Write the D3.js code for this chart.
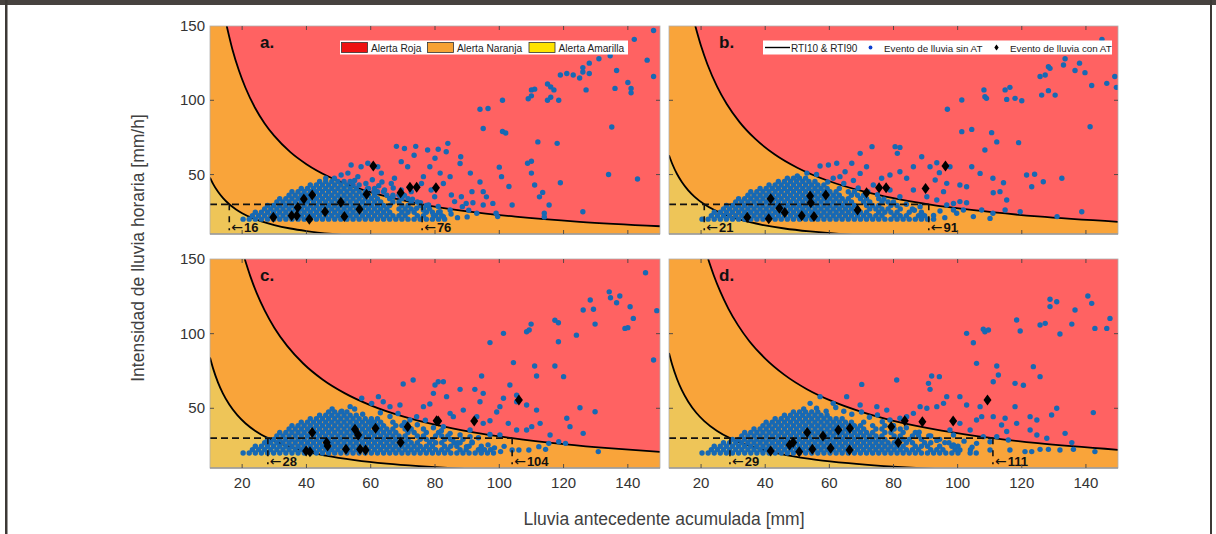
<!DOCTYPE html>
<html><head><meta charset="utf-8">
<script src="https://cdn.jsdelivr.net/npm/d3@7"></script>
<style>body{margin:0;background:#fff;}svg{display:block;font-family:"Liberation Sans",Arial,Helvetica,sans-serif;}</style>
</head><body><svg id="chart" width="1216" height="534"></svg>
<script>
// ---------- data ----------
const xTicks = [20, 40, 60, 80, 100, 120, 140];
const yTicks = [50, 100, 150];
const panelNames = ["a.", "b.", "c.", "d."];
const lowThresholds = [16, 21, 28, 29];
const highThresholds = [76, 91, 104, 111];
const alertLabels = ["Alerta Roja", "Alerta Naranja", "Alerta Amarilla"];
const seriesLabels = ["RTI10 & RTI90", "Evento de lluvia sin AT", "Evento de lluvia con AT"];
const xTitle = "Lluvia antecedente acumulada [mm]";
const yTitle = "Intensidad de lluvia horaria [mm/h]";

// RTI90 (upper) and RTI10 (lower) curves
const upperA = [[15.2,150],[17,134],[19,120],[21,108.6],[24,95],[27,84.4],[30,76],[35,65.1],[40,57],[47,48.5],[55,41.5],[65,35.1],[76,30],[90,25.3],[105,21.7],[125,18.2],[150,15.2]];
const lowerA = [[10,48],[11,43.6],[12.5,38.4],[14,34.3],[16,30],[18,26.7],[20,24],[23,20.9],[26,18.5],[30,16],[35,13.7],[40,12],[48,10],[52,9.2]];
const upperB = [[18.2,150],[20,136.5],[22,124.1],[25,109.2],[28,97.5],[32,85.3],[37,73.8],[43,63.5],[50,54.6],[60,45.5],[70,39],[80,34.1],[91,30],[105,26],[125,21.8],[150,18.2]];
const lowerB = [[10,63],[11,57.3],[12.5,50.4],[14,45],[16,39.4],[18,35],[21,30],[24,26.3],[28,22.5],[33,19.1],[39,16.2],[46,13.7],[54,11.7],[63,10],[68,9.3]];
const upperC = [[20.8,150],[22.5,138.7],[24.5,127.3],[27,115.6],[30,104],[34,91.8],[39,80],[45,69.3],[52,60],[60,52],[70,44.6],[80,39],[92,33.9],[104,30],[120,26],[135,23.1],[150,20.8]];
const lowerC = [[10,84],[11,76.4],[12.5,67.2],[14,60],[16,52.5],[18.5,45.4],[21,40],[24,35],[28,30],[33,25.5],[39,21.5],[46,18.3],[55,15.3],[65,12.9],[75,11.2],[84,10],[90,9.3]];
const upperD = [[22.2,150],[24,138.8],[26,128.1],[28.5,116.8],[31.5,105.7],[35,95.1],[40,83.3],[46,72.4],[53,62.8],[61,54.6],[70,47.6],[80,41.6],[95,35.1],[111,30],[125,26.6],[150,22.2]];
const lowerD = [[10,87],[11,79.1],[12.5,69.6],[14,62.1],[16,54.4],[18.5,47],[21,41.4],[25,34.8],[29,30],[34,25.6],[40,21.8],[47,18.5],[56,15.5],[66,13.2],[77,11.3],[87,10],[93,9.4]];

// dense clouds of rain events without AT: [intensity, [antecedent rain values]]
const coreA = [
 [20,[20.3,22.2,24.1,26,27.9,29.8,31.7,33.6,35.5,37.4,39.3,41.2,43.1,45,46.9,48.8,50.7,52.6,54.5,56.4,58.3,60.2,62.1,64,65.9,67.8,69.7,71.6,73.5,75.4,77.3,79.2,81.1,83]],
 [22.3,[23.2,25.1,27,28.9,30.8,32.7,34.6,36.5,38.4,40.3,42.2,44.1,46,47.9,49.8,51.7,53.6,55.5,57.4,59.3,61.2,63.1,65,66.9,68.8,70.7,74.5,76.4,80.2,82.1]],
 [24.6,[24.1,26,27.9,29.8,31.7,33.6,35.5,37.4,39.3,41.2,43.1,45,46.9,48.8,50.7,52.6,54.5,56.4,58.3,60.2,62.1,64,65.9,69.7,71.6,73.5,77.3,79.2,81.1]],
 [26.9,[27,28.9,30.8,32.7,34.6,36.5,38.4,40.3,42.2,44.1,46,47.9,49.8,51.7,53.6,55.5,57.4,59.3,61.2,63.1,65,68.8,70.7,72.6,76.4,78.3]],
 [29.2,[27.9,29.8,31.7,33.6,35.5,37.4,39.3,41.2,43.1,45,46.9,48.8,50.7,52.6,54.5,56.4,58.3,60.2,62.1,64,65.9,69.7,71.6,75.4,77.3]],
 [31.5,[30.8,32.7,34.6,36.5,38.4,40.3,42.2,44.1,46,47.9,49.8,51.7,53.6,55.5,57.4,59.3,61.2,63.1,66.9,68.8,72.6,74.5]],
 [33.8,[31.7,33.6,35.5,37.4,39.3,41.2,43.1,45,46.9,48.8,50.7,52.6,54.5,56.4,58.3,60.2,62.1,65.9,69.7,71.6]],
 [36.1,[34.6,36.5,38.4,40.3,42.2,44.1,46,47.9,49.8,51.7,53.6,55.5,57.4,59.3,61.2,65,66.9,68.8]],
 [38.4,[35.5,37.4,39.3,41.2,43.1,45,46.9,48.8,50.7,52.6,54.5,56.4,58.3,62.1,64]],
 [40.7,[38.4,40.3,42.2,44.1,46,47.9,49.8,51.7,53.6,55.5,59.3,61.2]],
 [43,[41.2,43.1,45,46.9,48.8,50.7,52.6,54.5,56.4]],
 [45.3,[44.1,46,47.9,49.8,51.7,53.6]]
];
const coreB = [
 [20,[20.3,22.2,24.1,26,27.9,29.8,31.7,33.6,35.5,37.4,39.3,41.2,43.1,45,46.9,48.8,50.7,52.6,54.5,56.4,58.3,60.2,62.1,64,65.9,67.8,69.7,71.6,73.5,75.4,77.3,79.2,81.1,83,84.9,86.8,88.7,90.6,92.5]],
 [22.3,[23.2,25.1,27,28.9,30.8,32.7,34.6,36.5,38.4,40.3,42.2,44.1,46,47.9,49.8,51.7,53.6,55.5,57.4,59.3,61.2,63.1,65,66.9,68.8,70.7,72.6,74.5,76.4,80.2,82.1,84,87.8,89.7]],
 [24.6,[24.1,26,27.9,29.8,31.7,33.6,35.5,37.4,39.3,41.2,43.1,45,46.9,48.8,50.7,52.6,54.5,56.4,58.3,60.2,62.1,64,65.9,67.8,69.7,71.6,75.4,77.3,79.2,81.1,84.9,88.7]],
 [26.9,[27,28.9,30.8,32.7,34.6,36.5,38.4,40.3,42.2,44.1,46,47.9,49.8,51.7,53.6,55.5,57.4,59.3,61.2,63.1,65,66.9,68.8,72.6,74.5,76.4,78.3,82.1,85.9]],
 [29.2,[27.9,29.8,31.7,33.6,35.5,37.4,39.3,41.2,43.1,45,46.9,48.8,50.7,52.6,54.5,56.4,58.3,60.2,62.1,64,65.9,67.8,71.6,73.5,75.4,79.2,81.1]],
 [31.5,[30.8,32.7,34.6,36.5,38.4,40.3,42.2,44.1,46,47.9,49.8,51.7,53.6,55.5,57.4,59.3,61.2,63.1,65,66.9,70.7,72.6,76.4,78.3]],
 [33.8,[31.7,33.6,35.5,37.4,39.3,41.2,43.1,45,46.9,48.8,50.7,52.6,54.5,56.4,58.3,60.2,62.1,64,65.9,69.7,71.6,75.4]],
 [36.1,[34.6,36.5,38.4,40.3,42.2,44.1,46,47.9,49.8,51.7,53.6,55.5,57.4,59.3,61.2,63.1,66.9,68.8,70.7]],
 [38.4,[35.5,37.4,39.3,41.2,43.1,45,46.9,48.8,50.7,52.6,54.5,56.4,58.3,60.2,62.1,65.9,67.8]],
 [40.7,[38.4,40.3,42.2,44.1,46,47.9,49.8,51.7,53.6,55.5,57.4,59.3,63.1]],
 [43,[41.2,43.1,45,46.9,48.8,50.7,52.6,54.5,56.4,58.3]],
 [45.3,[44.1,46,47.9,49.8,51.7,53.6,55.5]],
 [47.6,[46.9,48.8,50.7,52.6]]
];
const coreC = [
 [20,[20.3,22.2,24.1,26,27.9,29.8,31.7,33.6,35.5,37.4,39.3,41.2,43.1,45,46.9,48.8,50.7,52.6,54.5,56.4,58.3,60.2,62.1,64,65.9,67.8,69.7,71.6,73.5,75.4,77.3,79.2,81.1,83,84.9,86.8,88.7,90.6,92.5,94.4,96.3,98.2]],
 [22.3,[23.2,25.1,27,28.9,30.8,32.7,34.6,36.5,38.4,40.3,42.2,44.1,46,47.9,49.8,51.7,53.6,55.5,57.4,59.3,61.2,63.1,65,66.9,68.8,70.7,72.6,74.5,76.4,78.3,80.2,82.1,84,87.8,89.7,93.5,95.4,97.3]],
 [24.6,[24.1,26,27.9,29.8,31.7,33.6,35.5,37.4,39.3,41.2,43.1,45,46.9,48.8,50.7,52.6,54.5,56.4,58.3,60.2,62.1,64,65.9,67.8,69.7,71.6,73.5,75.4,77.3,79.2,83,84.9,86.8,90.6,94.4]],
 [26.9,[27,28.9,30.8,32.7,34.6,36.5,38.4,40.3,42.2,44.1,46,47.9,49.8,51.7,53.6,55.5,57.4,59.3,61.2,63.1,65,66.9,68.8,70.7,72.6,74.5,78.3,80.2,82.1,85.9,87.8,91.6]],
 [29.2,[27.9,29.8,31.7,33.6,35.5,37.4,39.3,41.2,43.1,45,46.9,48.8,50.7,52.6,54.5,56.4,58.3,60.2,62.1,64,65.9,67.8,69.7,71.6,75.4,77.3,79.2,83,84.9,88.7]],
 [31.5,[30.8,32.7,34.6,36.5,38.4,40.3,42.2,44.1,46,47.9,49.8,51.7,53.6,55.5,57.4,59.3,61.2,63.1,65,66.9,68.8,70.7,74.5,76.4,80.2,82.1,84]],
 [33.8,[31.7,33.6,35.5,37.4,39.3,41.2,43.1,45,46.9,48.8,50.7,52.6,54.5,56.4,58.3,60.2,62.1,64,65.9,67.8,71.6,73.5,77.3,81.1]],
 [36.1,[34.6,36.5,38.4,40.3,42.2,44.1,46,47.9,49.8,51.7,53.6,55.5,57.4,59.3,61.2,63.1,65,66.9,70.7,72.6,76.4]],
 [38.4,[35.5,37.4,39.3,41.2,43.1,45,46.9,48.8,50.7,52.6,54.5,56.4,58.3,60.2,62.1,64,67.8,69.7,71.6]],
 [40.7,[38.4,40.3,42.2,44.1,46,47.9,49.8,51.7,53.6,55.5,57.4,59.3,61.2,63.1,66.9]],
 [43,[41.2,43.1,45,46.9,48.8,50.7,52.6,54.5,56.4,58.3,60.2,62.1]],
 [45.3,[44.1,46,47.9,49.8,51.7,53.6,55.5]],
 [47.6,[46.9,48.8,50.7,52.6]]
];
const coreD = [
 [20,[20.3,22.2,24.1,26,27.9,29.8,31.7,33.6,35.5,37.4,39.3,41.2,43.1,45,46.9,48.8,50.7,52.6,54.5,56.4,58.3,60.2,62.1,64,65.9,67.8,69.7,71.6,73.5,75.4,77.3,79.2,81.1,83,84.9,86.8,88.7,90.6,92.5,94.4,96.3,98.2,100.1,103.9,105.8]],
 [22.3,[23.2,25.1,27,28.9,30.8,32.7,34.6,36.5,38.4,40.3,42.2,44.1,46,47.9,49.8,51.7,53.6,55.5,57.4,59.3,61.2,63.1,65,66.9,68.8,70.7,72.6,74.5,76.4,78.3,80.2,82.1,84,85.9,87.8,91.6,93.5,95.4,99.2,104]],
 [24.6,[24.1,26,27.9,29.8,31.7,33.6,35.5,37.4,39.3,41.2,43.1,45,46.9,48.8,50.7,52.6,54.5,56.4,58.3,60.2,62.1,64,65.9,67.8,69.7,71.6,73.5,75.4,77.3,79.2,81.1,83,86.8,88.7,90.6,94.4,98.2,100.1]],
 [26.9,[27,28.9,30.8,32.7,34.6,36.5,38.4,40.3,42.2,44.1,46,47.9,49.8,51.7,53.6,55.5,57.4,59.3,61.2,63.1,65,66.9,68.8,70.7,72.6,74.5,76.4,78.3,80.2,84,85.9,89.7,91.6,97.3]],
 [29.2,[29.8,31.7,33.6,35.5,37.4,39.3,41.2,43.1,45,46.9,48.8,50.7,52.6,54.5,56.4,58.3,60.2,62.1,64,65.9,67.8,69.7,71.6,73.5,75.4,77.3,81.1,83,84.9,88.7,94.4]],
 [31.5,[32.7,34.6,36.5,38.4,40.3,42.2,44.1,46,47.9,49.8,51.7,53.6,55.5,57.4,59.3,61.2,63.1,65,66.9,68.8,70.7,72.6,74.5,76.4,80.2,82.1,85.9,87.8,91.6]],
 [33.8,[33.6,35.5,37.4,39.3,41.2,43.1,45,46.9,48.8,50.7,52.6,54.5,56.4,58.3,60.2,62.1,64,65.9,67.8,69.7,71.6,73.5,77.3,79.2,83,86.8]],
 [36.1,[36.5,38.4,40.3,42.2,44.1,46,47.9,49.8,51.7,53.6,55.5,57.4,59.3,61.2,63.1,65,66.9,68.8,70.7,74.5,76.4,80.2,82.1]],
 [38.4,[39.3,41.2,43.1,45,46.9,48.8,50.7,52.6,54.5,56.4,58.3,60.2,62.1,64,65.9,67.8,69.7,73.5,77.3]],
 [40.7,[40.3,42.2,44.1,46,47.9,49.8,51.7,53.6,55.5,57.4,59.3,61.2,63.1,65,66.9,70.7]],
 [43,[43.1,45,46.9,48.8,50.7,52.6,54.5,56.4,58.3,60.2,62.1,64]],
 [45.3,[46,47.9,49.8,51.7,53.6,55.5,57.4,59.3]],
 [47.6,[48.8,50.7,52.6,54.5,56.4]]
];

// scattered rain events without AT: [antecedent rain, intensity]
const sparseA = [[148,147],[142,141],[134.5,130],[131,128],[128,125],[126,122],[126,119],[123,117],[121,118],[125,115],[119,117],[128,118],[136.5,120],[140,112],[146,127],[148,116],[141,105],[141,108],[136,108],[127,107],[135,82],[110,107],[111,107.5],[110,103],[109,101],[115,111],[116,109],[117,107],[116,102],[115,100],[118.5,100],[101,100],[94,94],[96.5,94.5],[95,81],[101,79],[102,78],[112,72],[118,71],[119,44.5],[126,25],[134,50],[143,47],[110,51],[110,59],[108.8,57.6],[111,43],[113.5,38],[112.5,35],[115.5,29.5],[114,24],[114,21.5],[103,42],[100,55],[100.7,48.6],[104,29.5],[99.5,21.7],[99,24],[93,24],[90.5,26],[88.5,28.4],[68,69],[70.5,67.5],[74,69],[73.5,63],[77.7,66.5],[81,67],[84,71],[83.5,65.4],[80,61],[88,62],[87.8,57.5],[91,51],[94,45],[91.5,38.5],[95,38.5],[96,35],[98,30.6],[84.7,48.6],[81.6,51],[82.6,44],[78.4,55.3],[76.4,48.6],[75.8,44],[71.5,55.3],[69.5,58.7],[67.4,47.5],[66.4,44],[63.3,51],[62.2,55.3],[59.1,57.6],[57,55.3],[53.9,56.4],[52.9,51],[50.8,49.7],[48.7,47.5],[56,48.6],[64.3,39.6],[66.9,35.1],[69.5,39.6],[72.6,38.5],[78.8,39.6],[79.9,35.1],[85.1,36.2],[86.1,31.8],[88.2,35.1],[89.7,30.6],[91.8,31],[95,29.5],[84.7,26.2],[81.6,25],[82.6,21.7],[79.5,22.8],[76.4,26.2],[74.3,27.3],[46,47.5],[55,46],[58.5,44],[60.5,46.5],[62.5,42.5],[63.5,45],[59,40.5],[61,38.5],[67,41],[70.5,36],[73,33.5],[75.5,31],[78,29.5],[81,28.5],[85,23.5],[87,21],[90,21.5]];
const sparseB = [[145,141],[133.5,128],[138,125],[136.6,120],[139.7,118.6],[133,123.7],[128.3,122.6],[128.8,121.5],[127.3,117],[125.7,116],[141.8,110],[146.5,111.4],[149.5,108.7],[149,116],[130.4,103.5],[128.3,106.5],[126.2,103.5],[120,99.7],[117.9,101.3],[115.3,100.6],[116.3,108.7],[114.8,107],[108.5,102.4],[109,101.3],[108.2,107],[101.3,100.2],[96.8,94],[141.3,82.2],[119,71.5],[110.6,78.2],[112.2,72],[104.4,80.4],[101.3,78.9],[108.5,66.5],[104.4,55.3],[111,47.5],[114.3,44.5],[121.5,49.7],[124,50.2],[132.5,47.5],[138.7,25],[131,21.7],[119.5,25],[111,24],[110.1,20.5],[104.9,21.7],[107.5,26.2],[102.8,31],[100.7,31.8],[99.7,24],[98.7,30.6],[115.3,32.9],[114.8,26.2],[113.2,38.5],[111.1,37.8],[126.7,45.2],[123.1,41.8],[107,50.8],[102.8,41.8],[100.7,43],[97.6,55.3],[96.6,44.1],[95.6,38.5],[93.5,58],[94.3,51.3],[93,46.3],[91.4,55.3],[88.8,62],[86.2,55.3],[84.1,47.5],[82,51.9],[80.5,68.8],[82,68.3],[81.2,64.3],[78.9,49.7],[76.3,47.5],[73.3,68.8],[69.6,64.3],[71.6,55.3],[69.6,50.8],[67,57.6],[64.9,51.9],[62.3,57.6],[59.7,56.4],[57.1,55.8],[63.3,48.6],[61.2,47.5],[73.7,43],[78.9,39.6],[82,35.1],[86.2,39.6],[90.4,35.1],[93.5,32.9],[96.6,29.5],[98.7,26.2],[101.8,26.2],[88.3,28.4],[50,49],[53,51],[56,50],[59.5,45],[64.5,44],[67.5,46],[69,41],[72,38.5],[75,36.5],[77,33.5],[80,31.5],[84,30],[86.5,26],[89,23],[92.5,22.5],[94.5,25.5],[96,21]];
const sparseC = [[145.5,140.8],[149,115.4],[148,82.3],[134.2,128],[134.6,124],[137.5,125.2],[136.5,120.7],[140.7,118],[141.7,110.2],[139.1,103.5],[140,104],[128.3,122.5],[129.3,116.3],[126.1,115.8],[129.8,106.4],[124,99],[117.3,109],[118.4,107.3],[118.4,94.6],[108.5,101.3],[109.3,102.4],[109.9,106.4],[101.3,100.2],[97.1,94],[104.4,80.6],[111,78.3],[111.6,71.6],[117.3,78.3],[120,71.2],[103.3,65.6],[105.4,58.7],[101.3,56.7],[94.5,71.6],[92.4,62.7],[95,60],[94,54.4],[100.2,51.1],[99.2,47.5],[105.4,54.4],[108.5,52.2],[111.6,48.8],[112.7,39.9],[110.1,37.7],[108.5,35.5],[102.8,39.9],[97.1,41.7],[93,44.4],[95,39.9],[90.9,35.5],[93.5,30.3],[97.1,32.5],[100.2,32.1],[105.4,35.5],[115.8,32.1],[121,43.3],[122,37.7],[125.1,50.4],[126.1,33.2],[129.8,47.7],[130.8,21],[120.6,26.5],[118.5,27.6],[115.4,26.5],[114.4,22.5],[112.3,24.3],[109.2,22.1],[106.1,22.1],[104,22.1],[100.4,21],[87.8,62.7],[88.8,48.8],[84.7,46.6],[85.7,44.4],[82.6,67.8],[81,67.8],[80,65.6],[79.5,60],[83.6,57.8],[78.4,52.9],[76.4,51.1],[73.2,68.9],[70.1,66.3],[74.3,44.4],[72.2,42.2],[69.1,52.2],[66,51.1],[63.9,54.4],[62.4,57.8],[60.3,53.3],[57.2,56.7],[53.6,51.1],[59.8,41],[82.6,37.7],[84.7,33.2],[87.8,32.1],[90.9,31],[89.8,24.3],[94,22.1],[48,49.5],[51,48],[55,49.5],[57.5,46],[63,47],[66,44.5],[68.5,46.5],[70.5,40.5],[74.5,39],[77,42],[79.5,37],[82,35],[85.5,29],[87,27],[91.5,27.5],[96.5,25.5],[98.5,23.5],[101.5,24.5]];
const sparseD = [[140.6,125.2],[128.8,123],[130.9,121.4],[128.8,118.1],[141.8,120.3],[136.6,115.8],[147.5,110.2],[142.8,103.5],[146.5,103.5],[135.6,106.4],[125.7,105.8],[127.3,106.9],[131.9,99.8],[118.4,109.1],[119.5,101.8],[108.5,101.3],[109.6,102.4],[108,102.9],[102.8,100.2],[104.9,93.9],[105.9,80.1],[112.2,78.3],[112.7,72.3],[123.6,77.9],[125.7,71.2],[117.9,66.7],[120.5,65.4],[111.1,67.8],[91.9,71.6],[94.3,71.2],[90.9,66.7],[91.4,62.7],[81,68.9],[70.1,66],[96.6,57.8],[100.7,57.8],[102.8,52.2],[107,51.1],[107.5,44.4],[105.9,42.2],[111.1,44.4],[114.8,43.3],[113.7,38.8],[117.9,51.1],[118.4,39.9],[122.6,44.4],[124.7,42.2],[130.9,50],[129.3,45.5],[122.6,35.5],[124.7,32.1],[127.8,29.9],[133.5,33.2],[135.6,27],[142.3,47.1],[136.1,22.5],[142.8,21],[131.9,22.1],[128.3,22.5],[125.7,22.5],[123.1,21],[121,21],[116.3,22.1],[115.8,28.8],[115.3,34.4],[112.2,31],[110.1,27.6],[108,31],[103.9,35.5],[97.6,35.5],[95.6,53.3],[93.5,51.1],[90.4,50],[88.3,51.1],[86.2,46.6],[84.1,44.4],[82,43.3],[78.9,42.2],[77.9,48.8],[74.8,51.1],[69.6,52.2],[65.4,57.8],[61.2,53.3],[57.1,57.8],[54,53.3],[100.7,39.9],[98.7,32.1],[105.9,26.5],[110.1,22.1],[100.7,22.1],[98.7,25.4],[52,49.5],[56,50],[59,48],[62,50.5],[64.5,48],[67,46],[70,47.5],[72.5,44],[75,45.5],[76.5,41],[80,38.5],[84,37],[88,34],[91,31.5],[93.5,28.5],[96,27],[102,28],[104.5,24]];

// rain events with AT (landslides): [antecedent rain, intensity]
const atA = [[29.7,21.2],[35.4,22.3],[37,22.3],[40.9,19.9],[37.3,27.9],[39.2,33.6],[41.8,36.2],[45.8,25],[50.7,31.3],[51.8,21.7],[56.5,26.6],[58.7,36.7],[60.8,55.8],[69.3,37.8],[72.2,41.4],[74.3,41.4],[80.3,41.2]];
const atB = [[34.4,21.2],[41.1,20.3],[41.7,33.8],[44.4,27.3],[46.1,24.4],[51.4,22.3],[54,35.6],[54.2,31.1],[55.2,21.7],[58.9,36.2],[68.8,26.2],[71.6,37.8],[75.5,41.2],[77.7,41.2],[90,40.7],[96.2,55.8]];
const atC = [[39.9,21.4],[41.1,20.9],[41.8,33.7],[46.3,27],[46.6,24.7],[52.3,22.5],[55.1,35.9],[56.1,32.1],[56.7,22.5],[58.4,22.1],[61.5,36.6],[69.3,27],[71.5,37.7],[80.5,41.7],[81,41.5],[92.2,41.5],[106.1,55.5]];
const atD = [[41.7,21.4],[47.6,25.4],[48.7,27],[50.6,20.9],[53.1,33.7],[54.7,22.5],[58,31.4],[60.4,23.2],[62.8,35.5],[66.3,22.1],[66.4,36.6],[79.3,37.7],[81.5,27],[83.5,41.7],[89,41],[98.6,41.5],[109.3,55.5]];

// ---------- layout / style ----------
const COL = {red: "#FF6262", orange: "#F9A43A", yellow: "#EEC558", blue: "#1769B4", text: "#333"};
const boxes = [
  {x0: 210, x1: 660, y0: 26, y1: 234},
  {x0: 669, x1: 1118, y0: 26, y1: 234},
  {x0: 210, x1: 660, y0: 259, y1: 468},
  {x0: 669, x1: 1118, y0: 259, y1: 468}
];
const panels = [
  {upper: upperA, lower: lowerA, core: coreA, sparse: sparseA, at: atA},
  {upper: upperB, lower: lowerB, core: coreB, sparse: sparseB, at: atB},
  {upper: upperC, lower: lowerC, core: coreC, sparse: sparseC, at: atC},
  {upper: upperD, lower: lowerD, core: coreD, sparse: sparseD, at: atD}
];

const svg = d3.select("#chart");
const defs = svg.append("defs");
const diamond = "M0,-5.5L4,0L0,5.5L-4,0Z";

// outer frame of the figure
svg.append("rect").attr("x", 0).attr("y", 0).attr("width", 1216).attr("height", 5).attr("fill", "#47423f");
svg.append("rect").attr("x", 5).attr("y", 0).attr("width", 2.5).attr("height", 534).attr("fill", "#3d3936");
svg.append("rect").attr("x", 1210).attr("y", 0).attr("width", 2).attr("height", 534).attr("fill", "#3d3936");

panels.forEach((p, i) => {
  const b = boxes[i];
  const x = d3.scaleLinear().domain([10, 150]).range([b.x0, b.x1]);
  const y = d3.scaleLinear().domain([10, 150]).range([b.y1, b.y0]);
  const clipId = "clip" + i;
  defs.append("clipPath").attr("id", clipId).append("rect")
    .attr("x", b.x0).attr("y", b.y0).attr("width", b.x1 - b.x0).attr("height", b.y1 - b.y0);
  const g = svg.append("g");
  const pg = g.append("g").attr("clip-path", `url(#${clipId})`);
  const line = d3.line().x(d => x(d[0])).y(d => y(d[1])).curve(d3.curveMonotoneX);

  // alert zones
  pg.append("rect").attr("x", b.x0).attr("y", b.y0).attr("width", b.x1 - b.x0).attr("height", b.y1 - b.y0).attr("fill", COL.red);
  pg.append("path").attr("fill", COL.orange)
    .attr("d", line(p.upper) + `L${x(150)},${y(5)}L${x(10)},${y(5)}L${x(10)},${y(155)}Z`);
  pg.append("path").attr("fill", COL.yellow)
    .attr("d", line(p.lower) + `L${x(10)},${y(5)}Z`);

  // RTI curves
  [p.upper, p.lower].forEach(c => pg.append("path").attr("d", line(c))
    .attr("fill", "none").attr("stroke", "#000").attr("stroke-width", 1.8));

  // rain events without AT
  const cloud = p.core.flatMap(([iv, xs]) => xs.map(r => [r, iv])).concat(p.sparse);
  pg.append("g").selectAll("circle").data(cloud).join("circle")
    .attr("cx", d => x(d[0])).attr("cy", d => y(d[1])).attr("r", 2.7).attr("fill", COL.blue);

  // threshold markers
  const lo = lowThresholds[i], hi = highThresholds[i];
  pg.append("path").attr("d", `M${x(10)},${y(30)}L${x(hi)},${y(30)}`)
    .attr("stroke", "#111").attr("stroke-width", 1.8).attr("stroke-dasharray", "7,4").attr("fill", "none");
  [lo, hi].forEach(v => {
    pg.append("path").attr("d", `M${x(v)},${y(30)}L${x(v)},${y(12.5)}`)
      .attr("stroke", "#111").attr("stroke-width", 1.6).attr("stroke-dasharray", "6,6").attr("fill", "none");
    const t = g.append("text").attr("x", x(v) + 2).attr("y", b.y1 - 2.5).attr("fill", "#111");
    t.append("tspan").attr("font-size", 14).attr("font-family", "DejaVu Sans").text("\u2190");
    t.append("tspan").attr("dx", 1).attr("font-size", 13).attr("font-weight", "bold").text(String(v));
  });

  // rain events with AT
  pg.append("g").selectAll("path").data(p.at).join("path")
    .attr("d", diamond).attr("transform", d => `translate(${x(d[0])},${y(d[1])})`).attr("fill", "#000");

  // box and ticks
  g.append("rect").attr("x", b.x0).attr("y", b.y0).attr("width", b.x1 - b.x0).attr("height", b.y1 - b.y0)
    .attr("fill", "none").attr("stroke", "#b0b0b0").attr("stroke-width", 0.8);
  g.append("line").attr("x1", b.x0).attr("x2", b.x1).attr("y1", b.y1).attr("y2", b.y1)
    .attr("stroke", "#9a9a9a").attr("stroke-width", 1.5);
  xTicks.forEach(v => {
    g.append("line").attr("x1", x(v)).attr("x2", x(v)).attr("y1", b.y0).attr("y2", b.y0 + 4).attr("stroke", "#444").attr("stroke-width", 0.9);
    g.append("line").attr("x1", x(v)).attr("x2", x(v)).attr("y1", b.y1).attr("y2", b.y1 - 4).attr("stroke", "#444").attr("stroke-width", 0.9);
  });
  yTicks.filter(v => v < 150).forEach(v => {
    g.append("line").attr("x1", b.x0).attr("x2", b.x0 + 4).attr("y1", y(v)).attr("y2", y(v)).attr("stroke", "#444").attr("stroke-width", 0.9);
    g.append("line").attr("x1", b.x1).attr("x2", b.x1 - 4).attr("y1", y(v)).attr("y2", y(v)).attr("stroke", "#444").attr("stroke-width", 0.9);
  });

  // tick labels
  if (i % 2 === 0) {
    g.selectAll(".yl").data(yTicks).join("text").attr("class", "yl")
      .attr("x", b.x0 - 5).attr("y", d => y(d) + 5).attr("text-anchor", "end")
      .attr("font-size", 15).attr("fill", COL.text).text(d => d);
  }
  if (i >= 2) {
    g.selectAll(".xl").data(xTicks).join("text").attr("class", "xl")
      .attr("x", d => x(d)).attr("y", b.y1 + 20).attr("text-anchor", "middle")
      .attr("font-size", 15).attr("fill", COL.text).text(d => d);
  }

  // panel letter
  g.append("text").attr("x", b.x0 + 50).attr("y", b.y0 + 22).attr("font-size", 17)
    .attr("font-weight", "bold").attr("fill", "#111").text(panelNames[i]);
});

// legend of alert zones (panel a)
{
  const lg = svg.append("g");
  lg.append("rect").attr("x", 340).attr("y", 40.5).attr("width", 288).attr("height", 14).attr("fill", "#fff");
  const swatchFill = ["#EE1111", "#F7A234", "#FFE300"];
  const xs = [341.5, 427.5, 529];
  alertLabels.forEach((lab, k) => {
    lg.append("rect").attr("x", xs[k]).attr("y", 42.5).attr("width", 26).attr("height", 10)
      .attr("fill", swatchFill[k]).attr("stroke", "#333").attr("stroke-width", 0.8);
    lg.append("text").attr("x", xs[k] + 29.5).attr("y", 51.5).attr("font-size", 10.2).attr("fill", "#222").text(lab);
  });
}
// legend of series (panel b)
{
  const lg = svg.append("g");
  lg.append("rect").attr("x", 763).attr("y", 40.5).attr("width", 349).attr("height", 14).attr("fill", "#fff");
  lg.append("line").attr("x1", 765).attr("x2", 790).attr("y1", 47.5).attr("y2", 47.5).attr("stroke", "#000").attr("stroke-width", 1.4);
  lg.append("text").attr("x", 791).attr("y", 51.5).attr("font-size", 10).attr("fill", "#222").text(seriesLabels[0]);
  lg.append("circle").attr("cx", 870.5).attr("cy", 47.5).attr("r", 1.9).attr("fill", "#0a3fd0");
  lg.append("text").attr("x", 884).attr("y", 51.5).attr("font-size", 9.8).attr("fill", "#222").text(seriesLabels[1]);
  lg.append("path").attr("d", "M0,-3L2.2,0L0,3L-2.2,0Z").attr("transform", "translate(996.5,47.5)").attr("fill", "#000");
  lg.append("text").attr("x", 1010).attr("y", 51.5).attr("font-size", 9.8).attr("fill", "#222").text(seriesLabels[2]);
}

// axis titles
svg.append("text").attr("transform", "translate(144,248) rotate(-90)").attr("text-anchor", "middle")
  .attr("font-size", 17.5).attr("fill", "#404040").text(yTitle);
svg.append("text").attr("x", 664).attr("y", 525).attr("text-anchor", "middle")
  .attr("font-size", 17.5).attr("fill", "#404040").text(xTitle);
</script></body></html>
